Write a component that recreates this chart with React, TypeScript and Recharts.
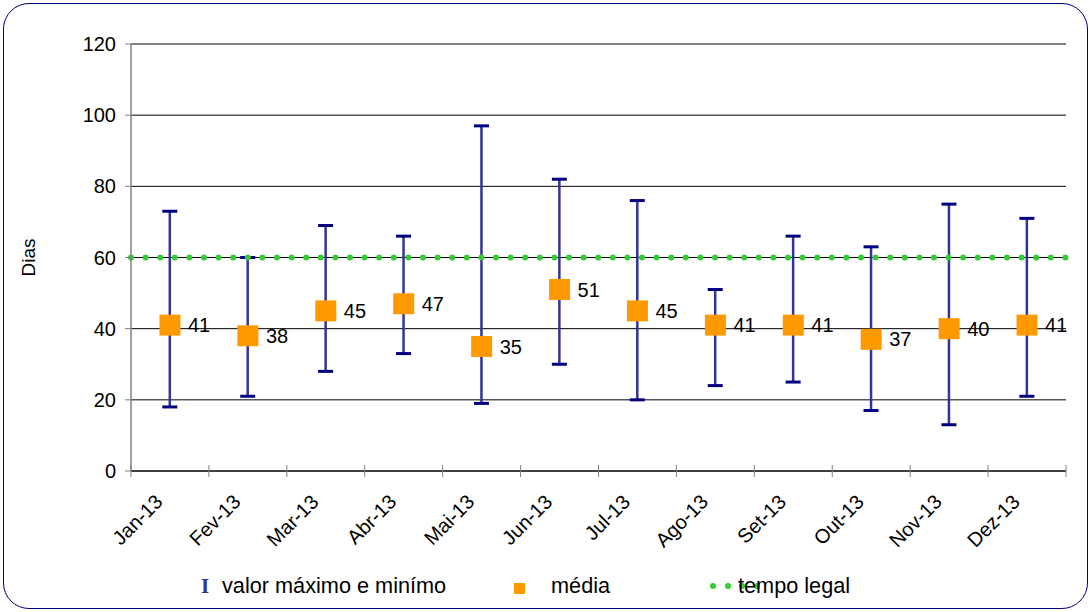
import React from 'react';
import {
  ComposedChart,
  Bar,
  Line,
  XAxis,
  YAxis,
  CartesianGrid,
  ReferenceLine,
  LabelList,
} from 'recharts';

const categories = ['Jan-13', 'Fev-13', 'Mar-13', 'Abr-13', 'Mai-13', 'Jun-13', 'Jul-13', 'Ago-13', 'Set-13', 'Out-13', 'Nov-13', 'Dez-13'];
const maxValues = [73, 60, 69, 66, 97, 82, 76, 51, 66, 63, 75, 71];
const minValues = [18, 21, 28, 33, 19, 30, 20, 24, 25, 17, 13, 21];
const meanValues = [41, 38, 45, 47, 35, 51, 45, 41, 41, 37, 40, 41];
const legalTime = 60;
const yTicks = [0, 20, 40, 60, 80, 100, 120];

const legendLabels = ['valor máximo e minímo', 'média', 'tempo legal'];

const data = categories.map((month, i) => ({
  month,
  range: [minValues[i], maxValues[i]],
  mean: meanValues[i],
}));

const FONT = '"Liberation Sans", Arial, Helvetica, sans-serif';

const RangeShape = (props: any) => {
  const { x, y, width, height } = props;
  if (x == null || y == null) return null;
  const cx = x + width / 2;
  const top = Math.min(y, y + height);
  const bottom = Math.max(y, y + height);
  const cap = 7.5;
  return (
    <g>
      <line x1={cx} x2={cx} y1={top} y2={bottom} stroke="#333399" strokeWidth={2.5} />
      <line x1={cx - cap} x2={cx + cap} y1={top} y2={top} stroke="#000080" strokeWidth={3} />
      <line x1={cx - cap} x2={cx + cap} y1={bottom} y2={bottom} stroke="#000080" strokeWidth={3} />
    </g>
  );
};

const MeanDot = (props: any) => {
  const { cx, cy, index } = props;
  if (cx == null || cy == null) return <g key={index} />;
  return <rect key={index} x={cx - 10.5} y={cy - 10.5} width={21} height={21} fill="#FF9900" />;
};

const XTick = (props: any) => {
  const { x, y, payload, index } = props;
  const half = payload && payload.offset != null ? payload.offset : 0;
  const lines = [x - half];
  if (index === categories.length - 1) lines.push(x + half);
  const tx = x - 6;
  const ty = y + 32;
  return (
    <g>
      {lines.map((lx, i) => (
        <line key={i} x1={lx} x2={lx} y1={y - 6} y2={y + 6} stroke="#808080" strokeWidth={1} />
      ))}
      <text
        x={tx}
        y={ty}
        transform={`rotate(-45, ${tx}, ${ty})`}
        textAnchor="end"
        fontSize={20}
        fill="#000"
        fontFamily={FONT}
      >
        {payload.value}
      </text>
    </g>
  );
};

const YLabel = (props: any) => {
  const vb = props.viewBox || {};
  const x = 28;
  const y = (vb.y ?? 44) + (vb.height ?? 427) / 2;
  return (
    <text
      x={x}
      y={y}
      transform={`rotate(-90, ${x}, ${y})`}
      textAnchor="middle"
      dominantBaseline="central"
      fontSize={19}
      fill="#000"
      fontFamily={FONT}
    >
      Dias
    </text>
  );
};

export default function App() {
  return (
    <div
      style={{
        position: 'absolute',
        left: 0,
        top: 0,
        width: 1090,
        height: 612,
        background: '#fff',
        fontFamily: FONT,
      }}
    >
      <div
        style={{
          position: 'absolute',
          left: 3,
          top: 3,
          width: 1085,
          height: 606,
          border: '1px solid #000080',
          borderRadius: 26,
          boxSizing: 'border-box',
        }}
      />
      <div style={{ position: 'absolute', left: 0, top: 0 }}>
        <ComposedChart
          width={1090}
          height={612}
          data={data}
          margin={{ top: 44, right: 24, bottom: 0, left: 0 }}
        >
          <CartesianGrid horizontal vertical={false} stroke="#000" strokeWidth={1} />
          <XAxis
            dataKey="month"
            type="category"
            height={141}
            axisLine={{ stroke: '#000', strokeWidth: 1 }}
            tickLine={false}
            tickSize={0}
            tickMargin={0}
            interval={0}
            tick={(p: any) => <XTick {...p} />}
          />
          <YAxis
            type="number"
            domain={[0, 120]}
            ticks={yTicks}
            width={131}
            axisLine={{ stroke: '#808080', strokeWidth: 1.5 }}
            tickLine={{ stroke: '#808080' }}
            tickSize={6}
            tickMargin={9}
            tick={{ fontSize: 20, fill: '#000', fontFamily: FONT }}
            label={<YLabel />}
          />
          <Bar dataKey="range" shape={<RangeShape />} isAnimationActive={false} />
          <Line
            dataKey="mean"
            stroke="none"
            dot={(p: any) => <MeanDot {...p} />}
            activeDot={false}
            isAnimationActive={false}
          >
            <LabelList dataKey="mean" position="right" offset={18} fontSize={20} fill="#000" fontFamily={FONT} />
          </Line>
          <ReferenceLine
            y={legalTime}
            stroke="#33CC33"
            strokeWidth={6}
            strokeDasharray="0 14.6"
            strokeLinecap="round"
          />
        </ComposedChart>
      </div>
      <svg
        width={1090}
        height={612}
        style={{ position: 'absolute', left: 0, top: 0, pointerEvents: 'none' }}
      >
        <text x={201} y={593} fontSize={21} fontWeight="bold" fill="#333399" fontFamily='"Liberation Serif", "Times New Roman", serif'>
          I
        </text>
        <text x={222} y={593} fontSize={21.7} fill="#000" fontFamily={FONT}>
          {legendLabels[0]}
        </text>
        <rect x={514} y={583} width={11} height={11} fill="#FF9900" />
        <text x={551} y={593} fontSize={21.7} fill="#000" fontFamily={FONT}>
          {legendLabels[1]}
        </text>
        {[713, 728, 742, 757].map((cx) => (
          <circle key={cx} cx={cx} cy={586} r={3} fill="#33CC33" />
        ))}
        <text x={738} y={593} fontSize={21.7} fill="#000" fontFamily={FONT}>
          {legendLabels[2]}
        </text>
      </svg>
    </div>
  );
}
